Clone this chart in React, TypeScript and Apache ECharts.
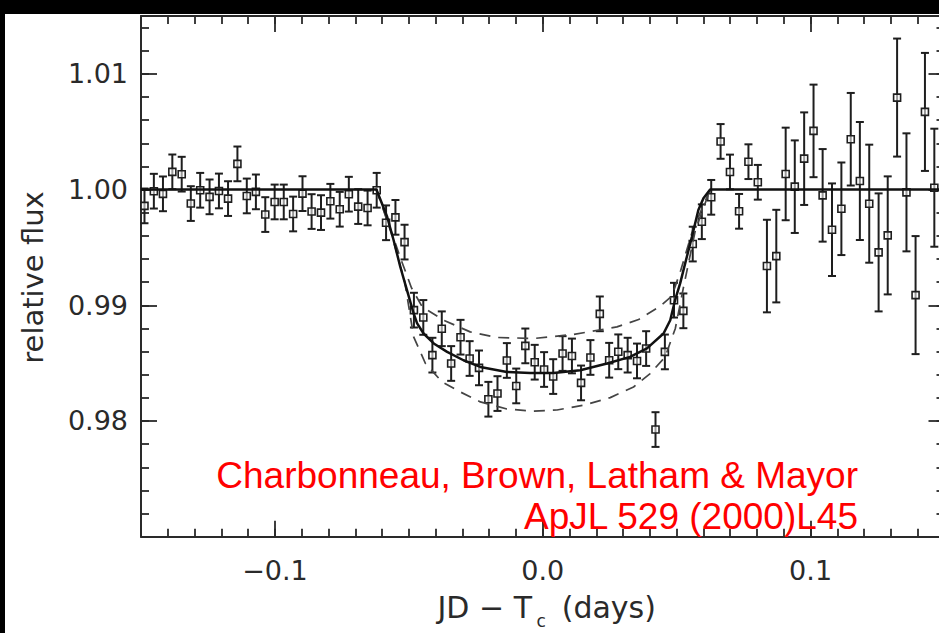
import React, { useEffect, useRef } from "react";
import * as echarts from "echarts";

// Observed photometry (JD - Tc in days, relative flux, 1-sigma error)
const obsX = [
  -0.1487, -0.1452, -0.1418, -0.1383, -0.1348, -0.1314, -0.1279, -0.1244, -0.1209, -0.1175,
  -0.1140, -0.1105, -0.1071, -0.1036, -0.1001, -0.0967, -0.0932, -0.0897, -0.0863, -0.0828,
  -0.0793, -0.0758, -0.0724, -0.0689, -0.0654, -0.0620, -0.0585, -0.0550, -0.0516, -0.0481,
  -0.0446, -0.0412, -0.0377, -0.0342, -0.0307, -0.0273, -0.0238, -0.0203, -0.0169, -0.0134,
  -0.0099, -0.0065, -0.0030, 0.0005, 0.0039, 0.0074, 0.0109, 0.0143, 0.0178, 0.0213,
  0.0248, 0.0282, 0.0317, 0.0352, 0.0386, 0.0421, 0.0456, 0.0490, 0.0525, 0.0560,
  0.0594, 0.0629, 0.0664, 0.0699, 0.0733, 0.0768, 0.0803, 0.0837, 0.0872, 0.0907,
  0.0941, 0.0976, 0.1011, 0.1045, 0.1080, 0.1115, 0.1150, 0.1184, 0.1219, 0.1254,
  0.1288, 0.1323, 0.1358, 0.1392, 0.1427, 0.1462,
];
const obsY = [
  0.99859, 0.99986, 0.99963, 1.00153, 1.00133, 0.99879, 0.99994, 0.99937, 0.99988, 0.99922,
  1.00222, 0.99945, 0.9998, 0.99784, 0.99893, 0.99893, 0.99789, 0.99965, 0.9981, 0.99801,
  0.99899, 0.9983, 0.9996, 0.99853, 0.99841, 0.99994, 0.99713, 0.9976, 0.99546, 0.98958,
  0.98895, 0.98569, 0.98797, 0.98497, 0.98724, 0.9854, 0.98459, 0.98188, 0.98237, 0.98523,
  0.98303, 0.98649, 0.98508, 0.98445, 0.98384, 0.98583, 0.98562, 0.98329, 0.98549, 0.98926,
  0.98525, 0.98598, 0.98569, 0.98519, 0.98626, 0.97926, 0.98597, 0.99044, 0.98952, 0.99529,
  0.99722, 0.99933, 1.00416, 1.00152, 0.99812, 1.00241, 1.00063, 0.99339, 0.99425, 1.00135,
  1.00025, 1.00267, 1.00507, 0.9995, 0.99653, 0.99834, 1.00435, 1.00074, 0.99878, 0.99457,
  0.99604, 1.00795, 0.99976, 0.99088, 1.00671, 1.00016,
];
const obsErr = [
  0.0015, 0.0015, 0.0015, 0.0015, 0.0015, 0.0015, 0.0015, 0.0015, 0.0015, 0.0015,
  0.0015, 0.0015, 0.0015, 0.0015, 0.0015, 0.0015, 0.0015, 0.0015, 0.0015, 0.0015,
  0.0015, 0.0015, 0.0015, 0.0015, 0.0015, 0.0015, 0.0015, 0.0015, 0.0015, 0.0015,
  0.0015, 0.0015, 0.0015, 0.0015, 0.0015, 0.0015, 0.0015, 0.0015, 0.0015, 0.0015,
  0.0015, 0.0015, 0.0015, 0.0015, 0.0015, 0.0015, 0.0015, 0.0015, 0.0015, 0.0015,
  0.0015, 0.0015, 0.0015, 0.0015, 0.0015, 0.0015, 0.0015, 0.0015, 0.0015, 0.0015,
  0.0015, 0.0015, 0.0015, 0.0015, 0.0015, 0.0015, 0.0015, 0.004, 0.004, 0.004,
  0.004, 0.004, 0.004, 0.004, 0.004, 0.004, 0.004, 0.0051, 0.0051, 0.0051,
  0.0051, 0.0051, 0.0051, 0.0051, 0.0051, 0.0051,
];

// Best-fit transit model (solid)
const modelX = [
  -0.15, -0.0621, -0.0581, -0.0557, -0.0532, -0.0507, -0.0482, -0.0469, -0.0445, -0.0407,
  -0.0357, -0.0296, -0.0233, -0.0134, -0.0047, 0.004, 0.014, 0.024, 0.0326, 0.0389,
  0.0451, 0.0476, 0.0494, 0.0513, 0.0538, 0.0557, 0.0581, 0.06, 0.0625, 0.15,
];
const modelY = [
  1.0, 1.0, 0.99765, 0.99564, 0.99333, 0.99131, 0.98929, 0.98843, 0.98756, 0.9867,
  0.98597, 0.98525, 0.98467, 0.98424, 0.98415, 0.98415, 0.98439, 0.98497, 0.98554, 0.98627,
  0.98756, 0.98871, 0.99044, 0.99189, 0.99419, 0.99592, 0.99823, 0.99924, 1.0, 1.0,
];
// Alternative models (dashed)
const upperX = [
  -0.0621, -0.0575, -0.053, -0.049, -0.045, -0.037, -0.0271, -0.0171, -0.0034, 0.0115,
  0.0277, 0.0358, 0.0439, 0.0482, 0.0515, 0.056, 0.0625,
];
const upperY = [
  1.0, 0.997, 0.994, 0.9915, 0.98987, 0.98871, 0.9877, 0.98722, 0.98713, 0.98748,
  0.98813, 0.98877, 0.98993, 0.99079, 0.993, 0.9965, 1.0,
];
const lowerX = [
  -0.0621, -0.0565, -0.0515, -0.0482, -0.0438, -0.0376, -0.0308, -0.0233, -0.0134, -0.004,
  0.0053, 0.0152, 0.0252, 0.0339, 0.0401, 0.0457, 0.0495, 0.0525, 0.057, 0.0625,
];
const lowerY = [
  1.0, 0.9962, 0.992, 0.98727, 0.98497, 0.98338, 0.98251, 0.98165, 0.98104, 0.98084,
  0.98095, 0.98136, 0.98202, 0.98294, 0.9841, 0.98554, 0.988, 0.9915, 0.9965, 1.0,
];

const xMajorTicks = [-0.1, 0, 0.1];
const yMajorTicks = [0.98, 0.99, 1.0, 1.01];
const yAxisTitle = "relative flux";
const creditLines = ["Charbonneau, Brown, Latham & Mayor", "ApJL 529 (2000)L45"];

const INK = "#2a2a2a";
const LABEL_FONT = "DejaVu Sans";

const zip = (xs: number[], ys: number[]) => xs.map((x, i) => [x, ys[i]]);

const fmtX = (v: number) => {
  if (Math.abs(v) < 1e-9) return "0.0";
  return v < 0 ? "\u2212" + Math.abs(v).toFixed(1) : v.toFixed(1);
};

function buildOption(): any {
  const lineAx = { show: true, onZero: false, lineStyle: { color: INK, width: 2 } };
  const noLine = { show: false, onZero: false };
  const minorTick = { show: true, inside: true, length: 8, lineStyle: { color: INK, width: 1.8 } };
  const majorTick = {
    show: true,
    inside: true,
    length: 16,
    lineStyle: { color: INK, width: 1.8 },
  };
  const baseX = { type: "value", min: -0.15, max: 0.15, splitLine: { show: false } };
  const baseY = { type: "value", min: 0.97, max: 1.015, splitLine: { show: false } };

  return {
    animation: false,
    backgroundColor: "#ffffff",
    grid: { left: 136, top: 2, right: 5.5, bottom: 96.3, containLabel: false },
    xAxis: [
      { ...baseX, position: "bottom", interval: 0.01, axisLine: lineAx, axisTick: minorTick, axisLabel: { show: false } },
      {
        ...baseX,
        position: "bottom",
        axisLine: noLine,
        axisTick: { ...majorTick, customValues: xMajorTicks },
        axisLabel: {
          show: true,
          customValues: xMajorTicks,
          formatter: fmtX,
          margin: 20,
          fontFamily: LABEL_FONT,
          fontSize: 27,
          color: INK,
        },
      },
      { ...baseX, position: "top", interval: 0.01, axisLine: lineAx, axisTick: minorTick, axisLabel: { show: false } },
      {
        ...baseX,
        position: "top",
        axisLine: noLine,
        axisTick: { ...majorTick, customValues: xMajorTicks },
        axisLabel: { show: false },
      },
    ],
    yAxis: [
      { ...baseY, position: "left", interval: 0.002, axisLine: lineAx, axisTick: minorTick, axisLabel: { show: false } },
      {
        ...baseY,
        position: "left",
        axisLine: noLine,
        axisTick: { ...majorTick, customValues: yMajorTicks },
        axisLabel: {
          show: true,
          customValues: yMajorTicks,
          formatter: (v: number) => v.toFixed(2),
          margin: 13,
          fontFamily: LABEL_FONT,
          fontSize: 27,
          color: INK,
        },
      },
      { ...baseY, position: "right", interval: 0.002, axisLine: lineAx, axisTick: minorTick, axisLabel: { show: false } },
      {
        ...baseY,
        position: "right",
        axisLine: noLine,
        axisTick: { ...majorTick, customValues: yMajorTicks },
        axisLabel: { show: false },
      },
    ],
    graphic: [
      {
        type: "text",
        x: 28.3,
        y: 263.5,
        rotation: Math.PI / 2,
        style: {
          text: yAxisTitle,
          fontSize: 29,
          fontFamily: LABEL_FONT,
          fill: INK,
          align: "center",
          verticalAlign: "middle",
          textAlign: "center",
          textVerticalAlign: "middle",
        },
      },
      {
        type: "text",
        x: 527,
        y: 593.7,
        style: {
          text: "JD \u2212 T",
          fontSize: 30,
          fontFamily: LABEL_FONT,
          fill: INK,
          align: "right",
          verticalAlign: "middle",
          textAlign: "right",
          textVerticalAlign: "middle",
        },
      },
      {
        type: "text",
        x: 531.5,
        y: 607,
        style: {
          text: "c",
          fontSize: 17,
          fontFamily: LABEL_FONT,
          fill: INK,
          align: "left",
          verticalAlign: "middle",
          textAlign: "left",
          textVerticalAlign: "middle",
        },
      },
      {
        type: "text",
        x: 556.7,
        y: 593.7,
        style: {
          text: "(days)",
          fontSize: 30,
          fontFamily: LABEL_FONT,
          fill: INK,
          align: "left",
          verticalAlign: "middle",
          textAlign: "left",
          textVerticalAlign: "middle",
        },
      },
      ...creditLines.map((t, i) => ({
        type: "text",
        x: 853,
        y: 461 + i * 41.6,
        z: 100,
        style: {
          text: t,
          fontSize: 37,
          fontFamily: "Liberation Sans",
          fill: "#ff0000",
          align: "right",
          verticalAlign: "middle",
          textAlign: "right",
          textVerticalAlign: "middle",
        },
      })),
    ],
    series: [
      {
        type: "custom",
        name: "data",
        xAxisIndex: 0,
        yAxisIndex: 0,
        clip: false,
        encode: { x: 0, y: 1 },
        data: obsX.map((x, i) => [x, obsY[i], obsErr[i]]),
        renderItem: (params: any, api: any) => {
          const x = api.value(0);
          const y = api.value(1);
          const e = api.value(2);
          const c = api.coord([x, y]);
          const t = api.coord([x, y + e]);
          const b = api.coord([x, y - e]);
          const hw = 4;
          const s = 3.5;
          const st = { stroke: "#1e1e1e", lineWidth: 2, fill: "none" };
          return {
            type: "group",
            children: [
              { type: "line", shape: { x1: c[0], y1: t[1], x2: c[0], y2: b[1] }, style: st },
              { type: "line", shape: { x1: c[0] - hw, y1: t[1], x2: c[0] + hw, y2: t[1] }, style: st },
              { type: "line", shape: { x1: c[0] - hw, y1: b[1], x2: c[0] + hw, y2: b[1] }, style: st },
              {
                type: "rect",
                shape: { x: c[0] - s, y: c[1] - s, width: 2 * s, height: 2 * s },
                style: { stroke: "#1e1e1e", lineWidth: 1.6, fill: "rgba(255,255,255,0.55)" },
              },
            ],
          };
        },
      },
      {
        type: "line",
        name: "model",
        xAxisIndex: 0,
        yAxisIndex: 0,
        data: zip(modelX, modelY),
        symbol: "none",
        lineStyle: { color: "#111", width: 2.5 },
        z: 5,
      },
      {
        type: "line",
        name: "upper",
        xAxisIndex: 0,
        yAxisIndex: 0,
        data: zip(upperX, upperY),
        symbol: "none",
        lineStyle: { color: "#444", width: 1.7, type: [11, 8] },
        z: 4,
      },
      {
        type: "line",
        name: "lower",
        xAxisIndex: 0,
        yAxisIndex: 0,
        data: zip(lowerX, lowerY),
        symbol: "none",
        lineStyle: { color: "#444", width: 1.7, type: [11, 8] },
        z: 4,
      },
    ],
  };
}

export default function App() {
  const ref = useRef<HTMLDivElement>(null);
  useEffect(() => {
    if (!ref.current) return;
    const chart = echarts.init(ref.current, null, { renderer: "svg" });
    chart.setOption(buildOption());
    return () => chart.dispose();
  }, []);
  return (
    <div
      style={{
        position: "fixed",
        left: 0,
        top: 0,
        width: 939,
        height: 633,
        background: "#000",
        overflow: "hidden",
      }}
    >
      <div
        ref={ref}
        style={{ position: "absolute", left: 5, top: 14, width: 945, height: 619, background: "#fff" }}
      />
    </div>
  );
}
